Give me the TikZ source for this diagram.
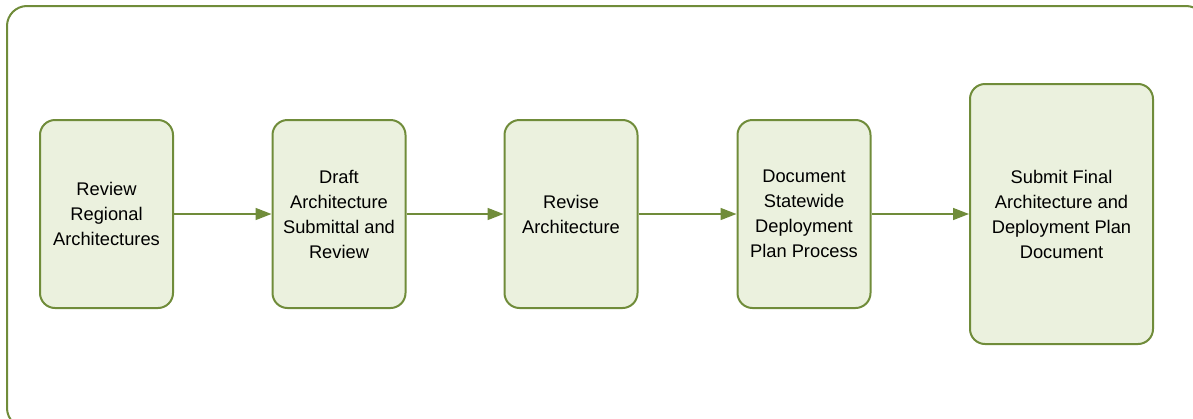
\documentclass[tikz,border=0pt]{standalone}
\usepackage{fontspec}
\setmainfont{Liberation Sans}
\usetikzlibrary{arrows.meta}
\definecolor{leaf}{RGB}{112,140,58}
\definecolor{pale}{RGB}{235,241,222}
\tikzset{
  stage/.style={draw=leaf, fill=pale, line width=2pt, rounded corners=15pt,
    align=center, inner sep=0pt, font=\fontsize{18.3}{25}\selectfont,
    minimum width=133pt, minimum height=188pt},
  flow/.style={draw=leaf, line width=1.6pt,
    -{Triangle[length=16pt,width=12pt]}}
}
\begin{document}
\begin{tikzpicture}[x=1pt,y=-1pt]
  \useasboundingbox (0,0) rectangle (1193,418);
  \clip (0,0) rectangle (1193,418);
  % enclosing frame
  \draw[leaf, line width=2pt, rounded corners=20pt] (7,6) rectangle (1206,428);
  % process stages
  \node[stage] (b1) at (106.5,214) {Review\\Regional\\Architectures};
  \node[stage] (b2) at (339,214) {Draft\\Architecture\\Submittal and\\Review};
  \node[stage] (b3) at (571,214) {Revise\\Architecture};
  \node[stage] (b4) at (804,214) {Document\\Statewide\\Deployment\\Plan Process};
  \node[stage, minimum width=183pt, minimum height=260pt] (b5) at (1061.5,214)
    {Submit Final\\Architecture and\\Deployment Plan\\Document};
  % connectors
  \draw[flow] (b1) -- (b2);
  \draw[flow] (b2) -- (b3);
  \draw[flow] (b3) -- (b4);
  \draw[flow] (b4) -- (b5);
\end{tikzpicture}
\end{document}
